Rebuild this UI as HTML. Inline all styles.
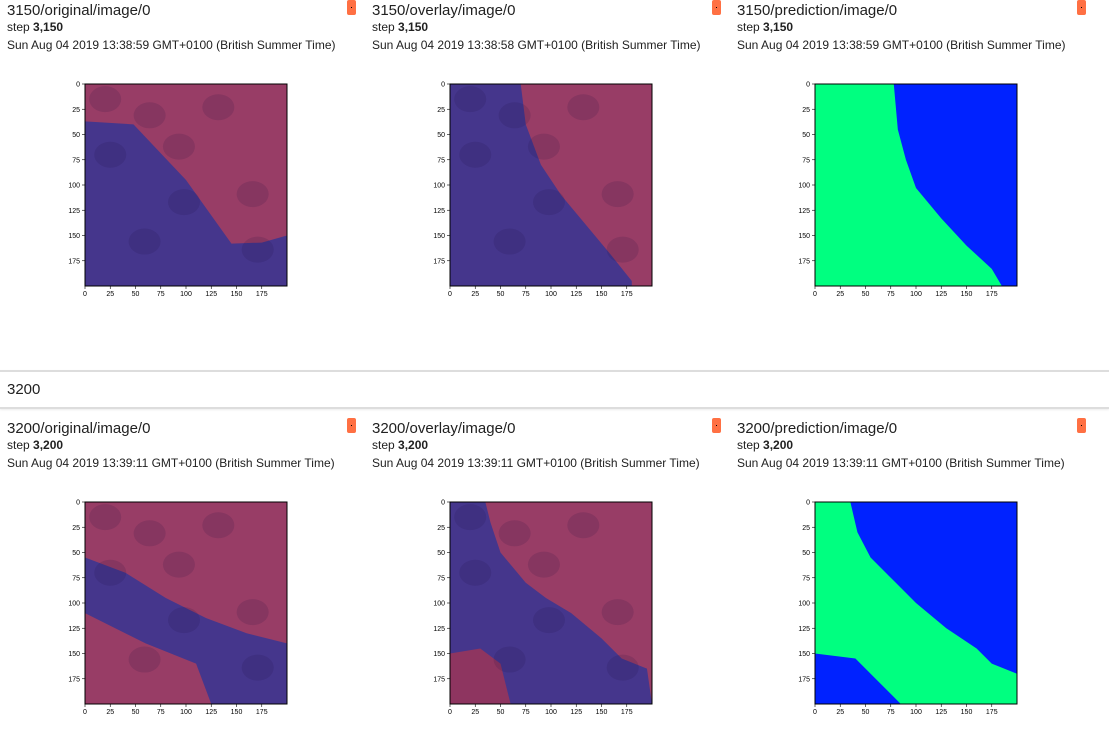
<!DOCTYPE html>
<html><head><meta charset="utf-8">
<style>
body{margin:0;width:1109px;height:744px;background:#fff;font-family:"Liberation Sans",Arial,sans-serif;color:#212121;overflow:hidden;position:relative}
.card{position:absolute;width:360px}
.title{position:absolute;left:0;top:2px;font-size:15px;white-space:nowrap}
.step{position:absolute;left:0;font-size:12px;white-space:nowrap}
.date{position:absolute;left:0;font-size:12px;white-space:nowrap}
.icon{position:absolute;width:9px;height:15px;background:#ff7043;border-radius:2px}
.icon:after{content:"";position:absolute;left:4px;top:7px;width:1px;height:1px;background:#000}
.band{position:absolute;left:0;top:370px;width:1109px;height:35px;border-top:2px solid #ddd;border-bottom:2px solid #ddd;box-shadow:0 1px 2px rgba(0,0,0,.08)}
.band span{position:absolute;left:7px;top:9px;font-size:15px}
svg{position:absolute;left:0;top:0}
</style></head><body>
<div class="band"><span>3200</span></div>
<div id="cards"></div>
<svg id="plots" width="1109" height="744"></svg>
<script>
const ticks=[0,25,50,75,100,125,150,175];
const tagNames=["original","overlay","prediction"];
const steps=["3,150","3,200"];
const runs=["3150","3200"];
const dates=[["13:38:59","13:38:58","13:38:59"],["13:39:11","13:39:11","13:39:11"]];
// region polygons in image-data coordinates (0..200)
const top_orig=[[0,37],[48,40],[100,95],[145,158],[175,157],[200,150],[200,200],[0,200]];
const top_over=[[0,0],[70,0],[75,40],[90,80],[110,110],[135,140],[160,170],[180,195],[180,200],[0,200]];
const top_pred=[[0,0],[78,0],[82,45],[90,75],[100,103],[125,133],[150,160],[175,183],[185,200],[0,200]];
const bot_orig=[[0,55],[40,70],[80,95],[120,115],[160,130],[200,140],[200,200],[125,200],[110,160],[60,140],[0,110]];
const bot_over=[[0,0],[35,0],[40,20],[50,50],[75,80],[95,95],[120,110],[150,135],[170,155],[195,165],[200,200],[0,200]];
const bot_over2=[[0,150],[30,145],[50,160],[60,200],[0,200]];
const bot_pred=[[0,0],[35,0],[42,30],[55,55],[80,80],[100,100],[130,125],[160,145],[175,160],[200,170],[200,200],[85,200],[60,175],[40,155],[0,150]];
const colX=[7,372,737];
const rowY=[0,418];
const plotTop=[84,502];
const NS="http://www.w3.org/2000/svg";
const svg=document.getElementById('plots');
const cards=document.getElementById('cards');
const S=202/200;
function el(t,a){const e=document.createElementNS(NS,t);for(const k in a)e.setAttribute(k,a[k]);return e;}
function poly(px,py,pts,fill,op){const e=el('polygon',{points:pts.map(p=>(px+p[0]*S)+','+(py+p[1]*S)).join(' '),fill:fill,'fill-opacity':op});return e;}
const PINK="#983d66",PURP="#45368c",GREEN="#00ff80",BLUE="#0022ff";
const specs=[[[PINK,[[top_orig,PURP]]],[PINK,[[top_over,PURP]]],[BLUE,[[top_pred,GREEN]]]],
             [[PINK,[[bot_orig,PURP]]],[PINK,[[bot_over,PURP],[bot_over2,"#8e3560"]]],[BLUE,[[bot_pred,GREEN]]]]];
for(let r=0;r<2;r++)for(let c=0;c<3;c++){
  const card=document.createElement('div');card.className='card';
  
  
  card.style.left=colX[c]+'px';card.style.top=rowY[r]+'px';
  card.innerHTML=`<div class="title">${runs[r]}/${tagNames[c]}/image/0</div>
<div class="step" style="top:20px">step <b>${steps[r]}</b></div>
<div class="date" style="top:38px">Sun Aug 04 2019 ${dates[r][c]} GMT+0100 (British Summer Time)</div>
<div class="icon" style="left:340px;top:0px"></div>`;
  cards.appendChild(card);
  const px=colX[c]+78, py=plotTop[r];
  const g=el('g',{});
  
  
  const [base,regs]=specs[r][c];
  g.appendChild(el('rect',{x:px,y:py,width:202,height:202,fill:base}));
  regs.forEach(([pts,col])=>g.appendChild(poly(px,py,pts,col,1)));
  if(c<2){ // tissue texture
    for(let i=0;i<9;i++){const cx=20+((i*73)%180),cy=15+((i*47)%180);
      g.appendChild(el('ellipse',{cx:px+cx*S,cy:py+cy*S,rx:16,ry:13,fill:'#1a0f40','fill-opacity':0.14}));}
  }
  g.appendChild(el('rect',{x:px,y:py,width:202,height:202,fill:'none',stroke:'#000','stroke-width':1}));
  ticks.forEach(t=>{
    const y=py+t*S, x=px+t*S;
    g.appendChild(el('line',{x1:px-3,x2:px,y1:y,y2:y,stroke:'#000','stroke-width':0.6}));
    const ty=el('text',{x:px-5,y:y+2.5,'font-size':7,'text-anchor':'end',fill:'#000'});ty.textContent=t;g.appendChild(ty);
    g.appendChild(el('line',{x1:x,x2:x,y1:py+202,y2:py+205,stroke:'#000','stroke-width':0.6}));
    const tx=el('text',{x:x,y:py+212,'font-size':7,'text-anchor':'middle',fill:'#000'});tx.textContent=t;g.appendChild(tx);
  });
  svg.appendChild(g);
}
</script>
</body></html>
